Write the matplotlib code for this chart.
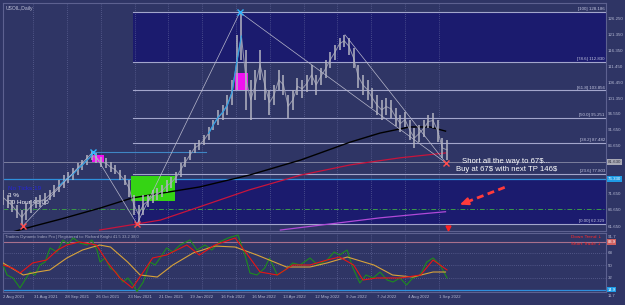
import numpy as np
import matplotlib.pyplot as plt

# daily bars of USOIL, one sample every 3rd bar (bar 0 = 2 Aug 2021)
bar_step = 3
price_hi = [72.9, 71.3, 69.8, 68.2, 66.7, 68.9, 69.8, 70.7, 71.3, 72.0,
            72.9, 74.4, 76.0, 77.5, 78.5, 79.7, 81.3, 82.2, 83.8, 85.0,
            84.4, 83.1, 82.8, 81.6, 80.6, 79.1, 77.5, 76.0, 71.3, 68.2,
            71.3, 71.3, 72.9, 73.5, 74.4, 76.0, 76.9, 78.5, 81.3, 83.1,
            85.3, 87.5, 88.5, 90.0, 92.5, 94.7, 97.8, 99.4, 102.5, 107.2,
            121.2, 128.2, 116.5, 107.2, 110.3, 116.5, 110.3, 104.0, 105.6, 110.3,
            108.7, 102.5, 104.0, 107.8, 107.2, 108.7, 111.8, 108.7, 110.9, 113.4,
            115.9, 118.1, 120.3, 121.2, 120.3, 117.1, 111.8, 108.7, 107.2, 104.6,
            102.5, 100.9, 101.5, 100.9, 98.4, 96.2, 97.1, 94.7, 92.2, 93.1,
            94.7, 96.2, 96.8, 94.7, 89.1, 88.5]
price_lo = [68.2, 67.3, 66.0, 64.2, 62.0, 63.5, 65.7, 67.3, 67.6, 68.2,
            69.8, 70.7, 72.2, 73.6, 75.0, 76.0, 77.5, 79.1, 80.7, 82.2,
            81.3, 80.0, 79.7, 78.4, 77.8, 76.0, 74.4, 70.7, 65.1, 62.3,
            65.1, 67.6, 68.9, 69.8, 70.7, 72.2, 73.5, 75.0, 76.9, 80.0,
            82.2, 84.4, 85.3, 86.9, 88.5, 91.6, 93.1, 94.7, 96.2, 99.4,
            104.0, 113.4, 97.8, 94.7, 100.9, 107.2, 100.9, 96.2, 99.4, 104.0,
            102.5, 95.4, 97.8, 102.5, 101.5, 103.4, 105.6, 102.5, 105.6, 107.8,
            110.9, 113.4, 116.5, 117.5, 114.9, 110.9, 104.6, 102.5, 100.9, 98.4,
            96.2, 94.7, 96.2, 95.4, 92.8, 90.9, 92.5, 88.5, 85.9, 87.8,
            89.4, 92.2, 92.2, 87.8, 82.8, 82.2]

# moving averages (bar, price)
ma_black_x = [3, 22, 37, 62, 83, 126, 158, 191, 223, 242, 261, 274, 284]
ma_black_y = [59.4, 61.9, 63.8, 67.2, 70.4, 73.8, 77.5, 82.2, 87.8, 90.6, 92.5, 92.5, 91.2]
ma_red_x = [62, 86, 101, 126, 158, 191, 223, 255, 284]
ma_red_y = [60.4, 62.3, 63.5, 67.6, 72.9, 77.5, 80.7, 82.9, 84.4]
ma_purple_x = [178, 210, 242, 268, 284]
ma_purple_y = [60.4, 62.3, 64.2, 65.4, 66.1]

# swing points
swing_x = [12.8, 57.8, 86, 152, 284.3]
swing_y = [61.7, 84.8, 62.3, 128.2, 81.3]
swing_hl = ['L', 'H', 'L', 'H', 'L']
second_top = (219.5, 121.2)

# fibonacci retracement
fib_pct = ['100', '78.6', '61.8', '50.0', '38.2', '23.6', '0.00']
fib_val = [128.186, 112.830, 103.856, 95.251, 87.482, 77.803, 62.329]
fib_start = 83.4

bid_price = 81.63
cyan_level = 76.33
buy_level = 67.0

price_ticks = [126.25, 121.35, 116.35, 111.45, 106.45, 101.35, 96.55,
               91.65, 86.65, 71.65, 66.65, 61.65]

date_labels = ['2 Aug 2021', '31 Aug 2021', '28 Sep 2021', '26 Oct 2021',
               '23 Nov 2021', '21 Dec 2021', '19 Jan 2022', '16 Feb 2022',
               '16 Mar 2022', '13 Apr 2022', '12 May 2022', '9 Jun 2022',
               '7 Jul 2022', '4 Aug 2022', '1 Sep 2022']
date_bars = list(range(0, 300, 20))

# Traders Dynamic Index (bar, value)
tdi_yellow_x = [0, 13, 22, 30, 41, 51, 62, 69, 80, 88, 99, 109, 122, 136, 149,
                163, 182, 197, 208, 221, 238, 250, 263, 276, 284]
tdi_yellow_y = [53.6, 36.3, 40.6, 43.5, 60.8, 72.3, 79.5, 76.6, 55.0, 36.3, 33.4,
                50.7, 68.0, 78.0, 76.6, 65.1, 47.8, 47.8, 53.6, 62.2, 50.7, 36.3,
                33.4, 40.6, 40.6]
tdi_red_x = [0, 6, 11, 19, 28, 35, 41, 49, 60, 67, 75, 83, 90, 96, 105, 118,
             126, 136, 149, 158, 165, 176, 186, 197, 208, 216, 225, 231, 240,
             255, 268, 276, 285]
tdi_red_y = [50.7, 46.4, 39.2, 53.6, 57.9, 72.3, 79.5, 83.9, 79.5, 55.0, 32.0,
             17.6, 40.6, 60.8, 65.1, 79.5, 65.1, 79.5, 89.6, 62.2, 40.6, 36.3,
             50.7, 50.7, 57.9, 62.2, 50.7, 29.1, 32.0, 32.0, 36.3, 57.9, 43.5]
tdi_green_x = [0, 2.6, 6.4, 10.9, 14.1, 17.3, 20.5, 23.7, 27, 30.2, 34.7, 38.5,
               41.7, 45, 49.4, 54, 57, 60.3, 62.3, 65.5, 68.7, 72.5, 77, 80.2,
               83.4, 86, 90, 94.4, 97.6, 100.8, 105, 109, 113.6, 120, 124.5,
               129.7, 134, 139, 144.4, 150.8, 155.3, 158.5, 163, 168, 171, 176,
               181, 186, 190.6, 197, 202, 208, 212.5, 216, 220.8, 224.6, 229,
               233, 237.5, 242, 246.5, 250.3, 254.8, 259, 263, 267.7, 272, 276,
               280.5, 285]
tdi_green_y = [50.7, 36.3, 32.0, 17.6, 29.1, 40.6, 36.3, 50.7, 55.0, 75.2, 69.4,
               86.7, 81.0, 89.6, 82.4, 79.5, 86.7, 72.3, 55.0, 60.8, 46.4, 40.6,
               26.2, 32.0, 21.9, 12.5, 26.2, 55.0, 50.7, 60.8, 75.2, 69.4, 79.5,
               86.7, 72.3, 79.5, 72.3, 83.9, 89.6, 93.9, 65.1, 39.2, 36.3, 46.4,
               60.8, 36.3, 43.5, 53.6, 50.7, 60.8, 50.7, 57.9, 69.4, 65.1, 72.3,
               46.4, 24.8, 36.3, 32.0, 40.6, 29.1, 26.2, 32.0, 21.9, 32.0, 36.3,
               55.0, 60.8, 50.7, 32.0]
tdi_levels = [68, 50, 32]
tdi_upper = 83.9
tdi_lower = 14.9

# ---- colours ----
bg = '#2f3565'
navy = '#1b1b6e'
grid_c = '#6f74a6'
lab_c = '#b4b8d2'

plt.rcParams['font.family'] = ['Liberation Sans', 'DejaVu Sans']

fig = plt.figure(figsize=(6.25, 3.05), dpi=100, facecolor=bg)
ax = fig.add_axes([3 / 625, 74 / 305, 603 / 625, 228 / 305], facecolor=bg)
ax2 = fig.add_axes([3 / 625, 13 / 305, 603 / 625, 59 / 305], facecolor=bg)

xmax = 387
for a in (ax, ax2):
    a.set_xlim(0, xmax)
    for s in a.spines.values():
        s.set_color('#5d6190')
        s.set_linewidth(0.8)
    for gx in np.linspace(19.3, 279.8, 13):
        a.axvline(gx, color=grid_c, lw=0.5, ls=(0, (1, 2)), zorder=1)

ax.set_ylim(60.1, 131.1)
bars = np.arange(len(price_hi)) * bar_step

# zones
ax.fill_between([fib_start, xmax], fib_val[1], fib_val[0], color=navy, zorder=0.5, lw=0)
ax.fill_between([fib_start, xmax], fib_val[-1], cyan_level, color=navy, zorder=0.5, lw=0)
ax.fill_between([82.2, 110.3], 69.4, 77.2, color='#35d414', zorder=2, lw=0)
ax.fill_between([57.1, 64.8], 81.6, 83.8, color='#f010f0', zorder=2, lw=0)
ax.fill_between([148.9, 157.3], 104.0, 109.3, color='#f010f0', zorder=2, lw=0)

# fib levels
for p, v in zip(fib_pct, fib_val):
    ax.plot([fib_start, xmax], [v, v], color='#a3a6cc', lw=0.8, zorder=1.5)
    ax.text(xmax - 0.8, v + 0.3, '[%s] %.3f' % (p, v), color='#c4c6e0',
            fontsize=3.2, ha='right', va='bottom', zorder=5)

ax.axhline(cyan_level, color='#2f8fdc', lw=0.9, zorder=1.6)
ax.axhline(buy_level, color='#3a9a4a', lw=0.7, ls=(0, (5, 2, 1, 2)), zorder=1.6)
ax.axhline(bid_price, color='#9a9cb4', lw=0.5, zorder=1.6)
ax.plot([swing_x[1], 130], [swing_y[1]] * 2, color='#3f86c4', lw=0.8, zorder=1.6)

# moving averages
ax.plot(ma_purple_x, ma_purple_y, color='#b04ad8', lw=0.9, zorder=3)
ax.plot(ma_red_x, ma_red_y, color='#c8143c', lw=0.9, zorder=3)
ax.plot(ma_black_x, ma_black_y, color='#000000', lw=1.0, zorder=3)

# price bars
ax.vlines(bars, price_lo, price_hi, color='#b4b4c2', lw=1.1, zorder=4)
mid = (np.array(price_hi) + np.array(price_lo)) / 2
ax.plot(bars, mid, color='#9496ac', lw=0.7, zorder=3.9)
for a0, a1 in [(12, 20), (44, 52)]:
    ax.plot(bars[a0:a1], mid[a0:a1], color='#2f9ce0', lw=0.9, zorder=4.1)

# zigzag
ax.plot(swing_x, swing_y, color='#b8b8cc', lw=0.5, zorder=4.2)
ax.plot([second_top[0], swing_x[-1]], [second_top[1], swing_y[-1]],
        color='#b8b8cc', lw=0.5, zorder=4.2)
for sx, sy, t in zip(swing_x, swing_y, swing_hl):
    ax.plot(sx, sy, marker='x', ms=4, mew=1.0, zorder=6,
            color='#ff4d4d' if t == 'L' else '#33b6ff')
ax.plot(285.6, 60.9, marker='v', ms=3.5, color='#ff2020', zorder=6, clip_on=False)

# right price axis
ax.yaxis.tick_right()
ax.set_yticks(price_ticks)
ax.set_yticklabels(['%.3f' % t for t in price_ticks])
ax.tick_params(axis='y', length=0, labelsize=3.2, colors=lab_c, pad=1.2)
ax.tick_params(axis='x', length=0, labelbottom=False)
ytr = ax.get_yaxis_transform()
ax.text(1.003, bid_price, '%.3f' % bid_price, transform=ytr, fontsize=3.2,
        color='#303040', va='center', ha='left',
        bbox=dict(boxstyle='square,pad=0.15', fc='#a8a8b4', ec='none'))
ax.text(1.003, cyan_level, '%.3f' % cyan_level, transform=ytr, fontsize=3.2,
        color='white', va='center', ha='left',
        bbox=dict(boxstyle='square,pad=0.15', fc='#1e9be6', ec='none'))

# annotations
ax.text(0.004, 0.985, 'USOIL,Daily', transform=ax.transAxes, fontsize=3.6,
        color='#c0c2d8', va='top', ha='left')
ax.text(3.2, 73.2, 'No Ticks 19', color='#2525d8', fontsize=4.6, va='center')
ax.text(3.2, 71.2, '3 %', color='white', fontsize=4.6, va='center')
ax.text(3.2, 68.9, '00 Hour 46:00', color='white', fontsize=4.6, va='center')
ax.text(323, 80.4, 'Short all the way to 67\\$...\nBuy at 67\\$ with next TP 146\\$',
        color='white', fontsize=5.6, ha='center', va='center', linespacing=1.25,
        zorder=7)
ax.plot([322, 297], [73.7, 69.0], color='#ff3b3b', lw=2.0, ls=(0, (2.5, 1.6)),
        zorder=7, solid_capstyle='butt')
ax.annotate('', xy=(291.5, 68.0), xytext=(297.5, 69.1), zorder=7,
            arrowprops=dict(arrowstyle='-|>,head_width=0.22,head_length=0.5',
                            color='#ff3b3b', lw=1.5))

# indicator panel
ax2.set_ylim(11.8, 96.8)
ax2.plot(tdi_green_x, tdi_green_y, color='#1d8c1d', lw=0.8, zorder=3)
ax2.plot(tdi_yellow_x, tdi_yellow_y, color='#d8a23a', lw=0.8, zorder=3.1)
ax2.plot(tdi_red_x, tdi_red_y, color='#e81414', lw=0.8, zorder=3.2)
for lv in tdi_levels:
    ax2.axhline(lv, color=grid_c, lw=0.5, ls=(0, (1, 2)), zorder=1)
ax2.axhline(tdi_upper, color='#a8708c', lw=0.8, zorder=1.5)
ax2.axhline(tdi_lower, color='#2f8fdc', lw=0.9, zorder=1.5)
ax2.yaxis.tick_right()
ax2.set_yticks([91.7] + tdi_levels)
ax2.set_yticklabels(['91.7', '68', '50', '32'])
ax2.tick_params(axis='y', length=0, labelsize=3.2, colors=lab_c, pad=1.2)
ytr2 = ax2.get_yaxis_transform()
ax2.text(1.003, tdi_upper, '%.1f' % tdi_upper, transform=ytr2, fontsize=3.0,
         color='white', va='center', ha='left',
         bbox=dict(boxstyle='square,pad=0.15', fc='#d06060', ec='none'))
ax2.text(1.003, tdi_lower, '%.1f' % tdi_lower, transform=ytr2, fontsize=3.0,
         color='white', va='center', ha='left',
         bbox=dict(boxstyle='square,pad=0.15', fc='#1e9be6', ec='none'))
ax2.text(1.003, -0.06, '11.7', transform=ax2.transAxes, fontsize=3.0,
         color=lab_c, va='center', ha='left')
ax2.text(0.004, 0.97, 'Traders Dynamic Index Pro | Registered to: Richard Knight 41.5 33.2 38.0',
         transform=ax2.transAxes, fontsize=3.0, color='#a8aac4', va='top', ha='left')
ax2.text(0.992, 0.93, 'Down Trend \u2193', transform=ax2.transAxes, fontsize=3.2,
         color='#ff2a2a', ha='right', va='center', family=['DejaVu Sans'])
ax2.text(0.992, 0.81, 'Short Trade \u2193', transform=ax2.transAxes, fontsize=3.2,
         color='#ff2a2a', ha='right', va='center', family=['DejaVu Sans'])

ax2.set_xticks(date_bars)
ax2.set_xticklabels(date_labels)
ax2.tick_params(axis='x', length=0, labelsize=3.1, colors=lab_c, pad=2)
for lbl in ax2.get_xticklabels():
    lbl.set_ha('left')

fig.savefig('out.png', dpi=100, facecolor=bg)
